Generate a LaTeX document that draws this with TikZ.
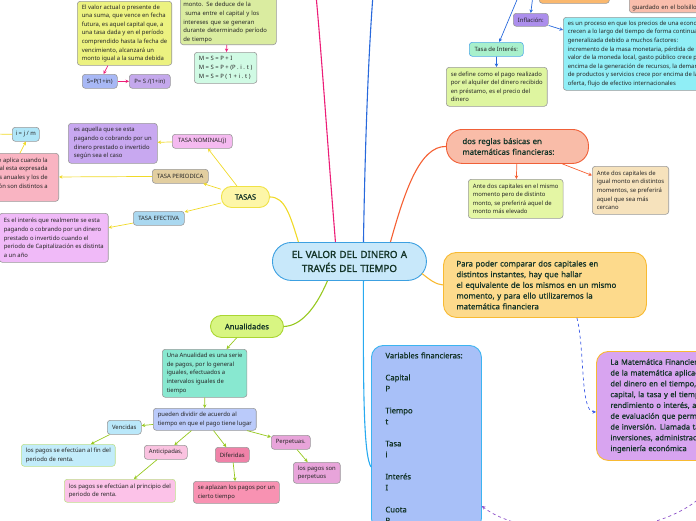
\documentclass[tikz,border=0pt]{standalone}
\usepackage{fontspec}
\setmainfont{Noto Sans}
\newfontfamily\topicfont[FakeBold=0.8]{Noto Sans}
\newfontfamily\centralfont[FakeBold=1.5]{Noto Sans}
\usetikzlibrary{arrows.meta}

\definecolor{txtdark}{RGB}{20,52,40}
\definecolor{cfill}{RGB}{200,232,250}
\definecolor{cborder}{RGB}{60,160,225}
\definecolor{yg}{RGB}{236,242,128}
\definecolor{ygpale}{RGB}{218,236,160}
\definecolor{mint}{RGB}{208,250,228}
\definecolor{sblue}{RGB}{168,184,245}
\definecolor{pviolet}{RGB}{196,168,236}
\definecolor{orangebox}{RGB}{250,184,110}
\definecolor{salmon}{RGB}{249,190,172}
\definecolor{inflv}{RGB}{172,142,236}
\definecolor{cyanbox}{RGB}{144,238,246}
\definecolor{tint}{RGB}{168,240,204}
\definecolor{tintb}{RGB}{80,170,230}
\definecolor{ygreen2}{RGB}{222,245,160}
\definecolor{salmon2}{RGB}{249,188,168}
\definecolor{redorange}{RGB}{240,96,56}
\definecolor{ygreen3}{RGB}{228,246,164}
\definecolor{tan2}{RGB}{246,226,188}
\definecolor{parafill}{RGB}{253,218,140}
\definecolor{paraborder}{RGB}{248,186,50}
\definecolor{varfill}{RGB}{168,192,248}
\definecolor{varborder}{RGB}{60,180,240}
\definecolor{matfill}{RGB}{216,164,240}
\definecolor{tasafill}{RGB}{253,246,168}
\definecolor{tasaborder}{RGB}{240,226,70}
\definecolor{nomfill}{RGB}{245,186,240}
\definecolor{aqfill}{RGB}{200,168,240}
\definecolor{perfill}{RGB}{226,206,160}
\definecolor{apfill}{RGB}{249,180,194}
\definecolor{ijmfill}{RGB}{176,230,248}
\definecolor{efefill}{RGB}{170,216,240}
\definecolor{realfill}{RGB}{240,186,248}
\definecolor{anufill}{RGB}{216,245,130}
\definecolor{anuborder}{RGB}{170,214,50}
\definecolor{seriefill}{RGB}{136,232,208}
\definecolor{divfill}{RGB}{186,202,250}
\definecolor{venfill}{RGB}{186,232,250}
\definecolor{finfill}{RGB}{194,236,250}
\definecolor{finborder}{RGB}{190,224,140}
\definecolor{antfill}{RGB}{250,194,224}
\definecolor{prinfill}{RGB}{252,194,232}
\definecolor{diffill}{RGB}{240,130,168}
\definecolor{aplfill}{RGB}{248,146,178}
\definecolor{perpfill}{RGB}{232,164,218}
\definecolor{lpink}{RGB}{236,30,120}
\definecolor{lblue}{RGB}{40,105,220}
\definecolor{lorange}{RGB}{245,95,50}
\definecolor{lyellow}{RGB}{240,218,40}
\definecolor{lgreen}{RGB}{150,200,30}
\definecolor{lcyan}{RGB}{40,170,240}
\definecolor{dashblue}{RGB}{60,90,230}
\definecolor{dashpurple}{RGB}{140,80,200}

\tikzstyle{leaf}=[draw=black!40,line width=0.6pt,rounded corners=3pt,anchor=north west,align=left,inner xsep=4.5pt,inner ysep=2pt,font=\fontsize{5.9}{8.6}\selectfont,text=black!85]
\tikzstyle{tag}=[leaf,align=center,inner xsep=1pt]
\tikzstyle{topic}=[line width=0.9pt,anchor=north west,align=left,font=\topicfont\fontsize{7.8}{10.7}\selectfont,text=txtdark]
\tikzstyle{link}=[-{Stealth[length=3.5pt,width=3.5pt]},line width=0.7pt]
\tikzstyle{branch}=[line width=1.1pt]

\begin{document}
\begin{tikzpicture}[x=1pt,y=-1pt]

   \useasboundingbox (0,0) rectangle (696,520);

   % Central topic
   \node[topic,draw=cborder,fill=cfill,rounded corners=19pt,text width=140pt,inner xsep=7pt,
     align=center,minimum height=38pt,font=\centralfont\fontsize{9.8}{14}\selectfont] (valor) at (272,242)
     {EL VALOR DEL DINERO A\\ TRAVÉS DEL TIEMPO};

   % Valor actual y monto
   \node[leaf,fill=yg,minimum height=64pt] (actual) at (77,1)
     {El valor actual o presente de\\ una suma, que vence en fecha\\ futura, es aquel capital que, a\\
      una tasa dada y en el período\\ comprendido hasta la fecha de\\ vencimiento, alcanzará un\\
      monto igual a la suma debida};
   \node[tag,fill=sblue,minimum width=35pt,minimum height=14pt] (sform) at (82,74) {S=P(1+in)};
   \node[tag,fill=pviolet,minimum width=41pt,minimum height=14pt] (pform) at (129,74) {P= S /(1+in)};
   \node[leaf,fill=ygpale,text width=90pt,text height=12pt,anchor=south west,inner xsep=3pt] (monto) at (180,45)
     {monto. Se deduce de la\\ \hspace*{2pt}suma entre el capital y los\\ intereses que se generan\\
      durante determinado período\\ de tiempo};
   \node[leaf,fill=mint,minimum height=31pt] (mform) at (194,52)
     {M = S = P + I\\ M = S = P + (P . i . t )\\ M = S = P ( 1 + i . t )};

   \draw[link,lpink] (actual) -- (sform);
   \draw[link,lpink] (sform) -- (pform);
   \draw[link,lpink] (monto) -- (mform);

   % Inflacion y tasa de interes
   \node[leaf,fill=orangebox,minimum width=70pt,minimum height=23pt] (orangecut) at (539,-20) {};
   \node[leaf,fill=salmon,anchor=south west,text width=80pt,text height=14pt,inner xsep=3pt] (bolsillo) at (629,13)
     {guardado en el bolsillo};
   \node[tag,fill=inflv,minimum width=35pt,minimum height=13pt] (inflacion) at (513,13) {Inflación:};
   \node[leaf,fill=cyanbox,minimum height=73pt] (proceso) at (563,17)
     {es un proceso en que los precios de una economía\\ crecen a lo largo del tiempo de forma continuada y\\
      generalizada debido a muchos factores:\\ incremento de la masa monetaria, pérdida de\\
      valor de la moneda local, gasto público crece por\\ encima de la generación de recursos, la demanda\\
      de productos y servicios crece por encima de la\\ oferta, flujo de efectivo internacionales};
   \node[tag,fill=tint,draw=tintb,minimum width=54pt,minimum height=14pt] (tasaint) at (469,42) {Tasa de Interés:};
   \node[leaf,fill=ygreen2,minimum height=39pt] (precio) at (446,67)
     {se define como el pago realizado\\ por el alquiler del dinero recibido\\ en préstamo, es el precio del\\ dinero};

   \coordinate (inflin) at (533,-5);
   \coordinate (tasain) at (519,-5);
   \draw[link,lblue] (inflin) -- (inflacion.north);
   \draw[link,lblue] (tasain) -- ([xshift=3pt]tasaint.north);
   \draw[link,lblue] (inflacion) -- (proceso);
   \draw[link,lblue] (tasaint) -- (precio);

   % Reglas basicas
   \node[topic,fill=salmon2,draw=redorange,rounded corners=16pt,text width=110pt,inner xsep=16pt,
     minimum height=34pt] (reglas) at (446,129) {dos reglas básicas en\\ matemáticas financieras:};
   \node[leaf,fill=ygreen3,minimum height=39pt] (mismo) at (468,179)
     {Ante dos capitales en el mismo\\ momento pero de distinto\\ monto, se preferirá aquel de\\ monto más elevado};
   \node[leaf,fill=tan2,minimum height=48pt] (igual) at (592,166)
     {Ante dos capitales de\\ igual monto en distintos\\ momentos, se preferirá\\ aquel que sea más\\ cercano};

   \draw[link,lorange] (reglas) -- (mismo);
   \draw[link,lorange] (reglas) -- (igual);

   % Comparar capitales
   \node[topic,fill=parafill,draw=paraborder,rounded corners=13pt,text width=177pt,inner xsep=13pt,
     minimum height=65pt] (comparar) at (443,252)
     {Para poder comparar dos capitales en\\ distintos instantes, hay que hallar\\
      el equivalente de los mismos en un mismo\\ momento, y para ello utilizaremos la\\ matemática financiera};

   \node[topic,fill=matfill,draw=paraborder,rounded corners=12pt,text width=200pt,inner xsep=14pt,
     minimum height=109pt,font=\topicfont\fontsize{7.5}{10.8}\selectfont] (matfin) at (596,351)
     {La Matemática Financiera es una derivación\\ de la matemática aplicada que estudia el valor\\
      del dinero en el tiempo, combinando el\\ capital, la tasa y el tiempo para obtener un\\
      rendimiento o interés, a través de métodos\\ de evaluación que permiten tomar decisiones\\
      de inversión. Llamada también análisis de\\ inversiones, administración de inversiones o\\
      ingeniería económica};

   \node[topic,fill=varfill,draw=varborder,rounded corners=12pt,text width=86pt,inner xsep=12pt,
     inner ysep=7pt,font=\topicfont\fontsize{7.7}{11}\selectfont] (variables) at (371,345)
     {\hspace*{2pt}Variables financieras:\\[11pt] \hspace*{2pt}Capital\\ \hspace*{2pt}P\\[11pt]
      \hspace*{2pt}Tiempo\\ \hspace*{2pt}t\\[11pt] \hspace*{2pt}Tasa\\ \hspace*{2pt}i\\[11pt]
      \hspace*{2pt}Interés\\ \hspace*{2pt}I\\[11pt] \hspace*{2pt}Cuota\\ \hspace*{2pt}R};

   \draw[link,dashblue,dashed] ([xshift=32pt]comparar.south) .. controls (585,350) and (580,412) ..
     ([yshift=-6pt]matfin.west);
   \draw[link,dashpurple,dashed] ([xshift=12pt]matfin.south) .. controls (705,545) and (530,545) ..
     ([yshift=-161pt]variables.north east);

   % Tasas
   \node[topic,fill=tasafill,draw=tasaborder,rounded corners=10pt,minimum width=48pt,minimum height=21pt,
     align=center,inner xsep=0pt,font=\topicfont\fontsize{7.4}{10}\selectfont] (tasas) at (221,186) {TASAS};
   \node[tag,fill=nomfill,minimum width=60pt,minimum height=14pt] (nominal) at (172,134) {TASA NOMINAL(j)};
   \node[leaf,fill=aqfill,minimum height=40pt,minimum width=89pt] (aquella) at (68,123)
     {es aquella que se esta\\ pagando o cobrando por un\\ dinero prestado o invertido\\ según sea el caso\hspace*{9pt}};
   \node[tag,fill=perfill,minimum width=56pt,minimum height=14pt] (periodica) at (152,169) {TASA PERIODICA};
   \node[leaf,fill=apfill,anchor=north east,inner xsep=11pt,align=right,minimum height=48pt] (aplica) at (59,153)
     {La tasa periódica se aplica cuando la\\ tasa nominal esta expresada\\ en términos anuales y los de\\
      capitalización son distintos a\\ \mbox{}};
   \node[tag,fill=ijmfill,minimum width=27pt,minimum height=14pt] (ijm) at (12,127) {i = j / m};
   \node[tag,fill=efefill,minimum width=51pt,minimum height=14pt] (efectiva) at (133,211) {TASA EFECTIVA};
   \node[leaf,fill=realfill,minimum height=49pt] (realmente) at (-1,213)
     {Es el interés que realmente se esta\\ pagando o cobrando por un dinero\\ prestado o invertido cuando el\\
      periodo de Capitalización es distinta\\ a un año};

   \coordinate (ijmout) at (-8,134);
   \draw[link,lyellow] (tasas) -- (nominal);
   \draw[link,lyellow] (nominal) -- (aquella);
   \draw[link,lyellow] (tasas) -- (periodica);
   \draw[link,lyellow] (periodica) -- (aplica);
   \draw[link,lyellow] ([xshift=-39pt]aplica.north east) -- (ijm.south);
   \draw[link,lyellow] (ijm.west) -- (ijmout);
   \draw[link,lyellow] (tasas) -- (efectiva);
   \draw[link,lyellow] (efectiva) -- (realmente);

   % Anualidades
   \node[topic,fill=anufill,draw=anuborder,rounded corners=11pt,minimum width=73pt,minimum height=22pt,
     align=center,font=\topicfont\fontsize{7.6}{10}\selectfont] (anualidades) at (210,315) {Anualidades};
   \node[leaf,fill=seriefill,minimum height=48pt] (serie) at (162,349)
     {Una Anualidad es una serie\\ de pagos, por lo general\\ iguales, efectuados a\\ intervalos iguales de\\ tiempo};
   \node[leaf,fill=divfill,minimum height=22pt] (dividir) at (153,408)
     {pueden dividir de acuerdo al\\ tiempo en que el pago tiene lugar};
   \node[tag,fill=venfill,minimum width=34pt,minimum height=14pt] (vencidas) at (107,420) {Vencidas};
   \node[leaf,fill=finfill,draw=finborder,minimum height=22pt] (fin) at (21,444)
     {los pagos se efectúan al fin del\\ periodo de renta.};
   \node[tag,fill=antfill,minimum width=43pt,minimum height=14pt] (anticipadas) at (144,445) {Anticipadas,};
   \node[leaf,fill=prinfill,draw=finborder,minimum height=23pt] (principio) at (64,479)
     {los pagos se efectúan al principio del\\ periodo de renta.};
   \node[tag,fill=diffill,minimum width=34pt,minimum height=15pt] (diferidas) at (215,447) {Diferidas};
   \node[leaf,fill=aplfill,minimum height=22pt] (aplazan) at (193,481)
     {se aplazan los pagos por un\\ cierto tiempo};
   \node[tag,fill=perpfill,minimum width=39pt,minimum height=14pt] (perpetuas) at (271,435) {Perpetuas.};
   \node[leaf,fill=perpfill,minimum height=21pt] (perpetuos) at (293,462)
     {los pagos son\\ perpetuos};

   \draw[link,lgreen] (anualidades) -- (serie);
   \draw[link,lgreen] (serie) -- (dividir);
   \draw[link,lgreen] (dividir) -- (vencidas);
   \draw[link,lgreen] (vencidas) -- (fin);
   \draw[link,lgreen] (dividir) -- (anticipadas);
   \draw[link,lgreen] (anticipadas) -- (principio);
   \draw[link,lgreen] (dividir) -- (diferidas);
   \draw[link,lgreen] (diferidas) -- (aplazan);
   \draw[link,lgreen] (dividir) -- (perpetuas);
   \draw[link,lgreen] (perpetuas) -- (perpetuos);

   % Branches from the central topic
   \coordinate (pinktop) at (316,-5);
   \coordinate (bluetop) at (373,-5);
   \draw[branch,lpink] ([xshift=-14pt]valor.north) .. controls (328,150) and (322,60) .. (pinktop);
   \draw[branch,lblue] ([xshift=14pt]valor.north) .. controls (365,150) and (368,60) .. (bluetop);
   \draw[branch,lorange] ([xshift=41pt]valor.north) .. controls (405,190) and (420,146) .. (reglas.west);
   \draw[branch,paraborder] ([xshift=-5pt,yshift=-12pt]valor.east) .. controls (430,280) and (436,284.5) .. (comparar.west);
   \draw[branch,lyellow] ([xshift=-51pt]valor.north) .. controls (290,215) and (285,197) .. (tasas.east);
   \draw[branch,lgreen] ([xshift=-22pt]valor.south) .. controls (315,310) and (300,326) .. (anualidades.east);
   \draw[branch,lcyan] ([xshift=14pt]valor.south) .. controls (363,400) and (364,455) .. ([yshift=-122pt]variables.north west);

\end{tikzpicture}
\end{document}
